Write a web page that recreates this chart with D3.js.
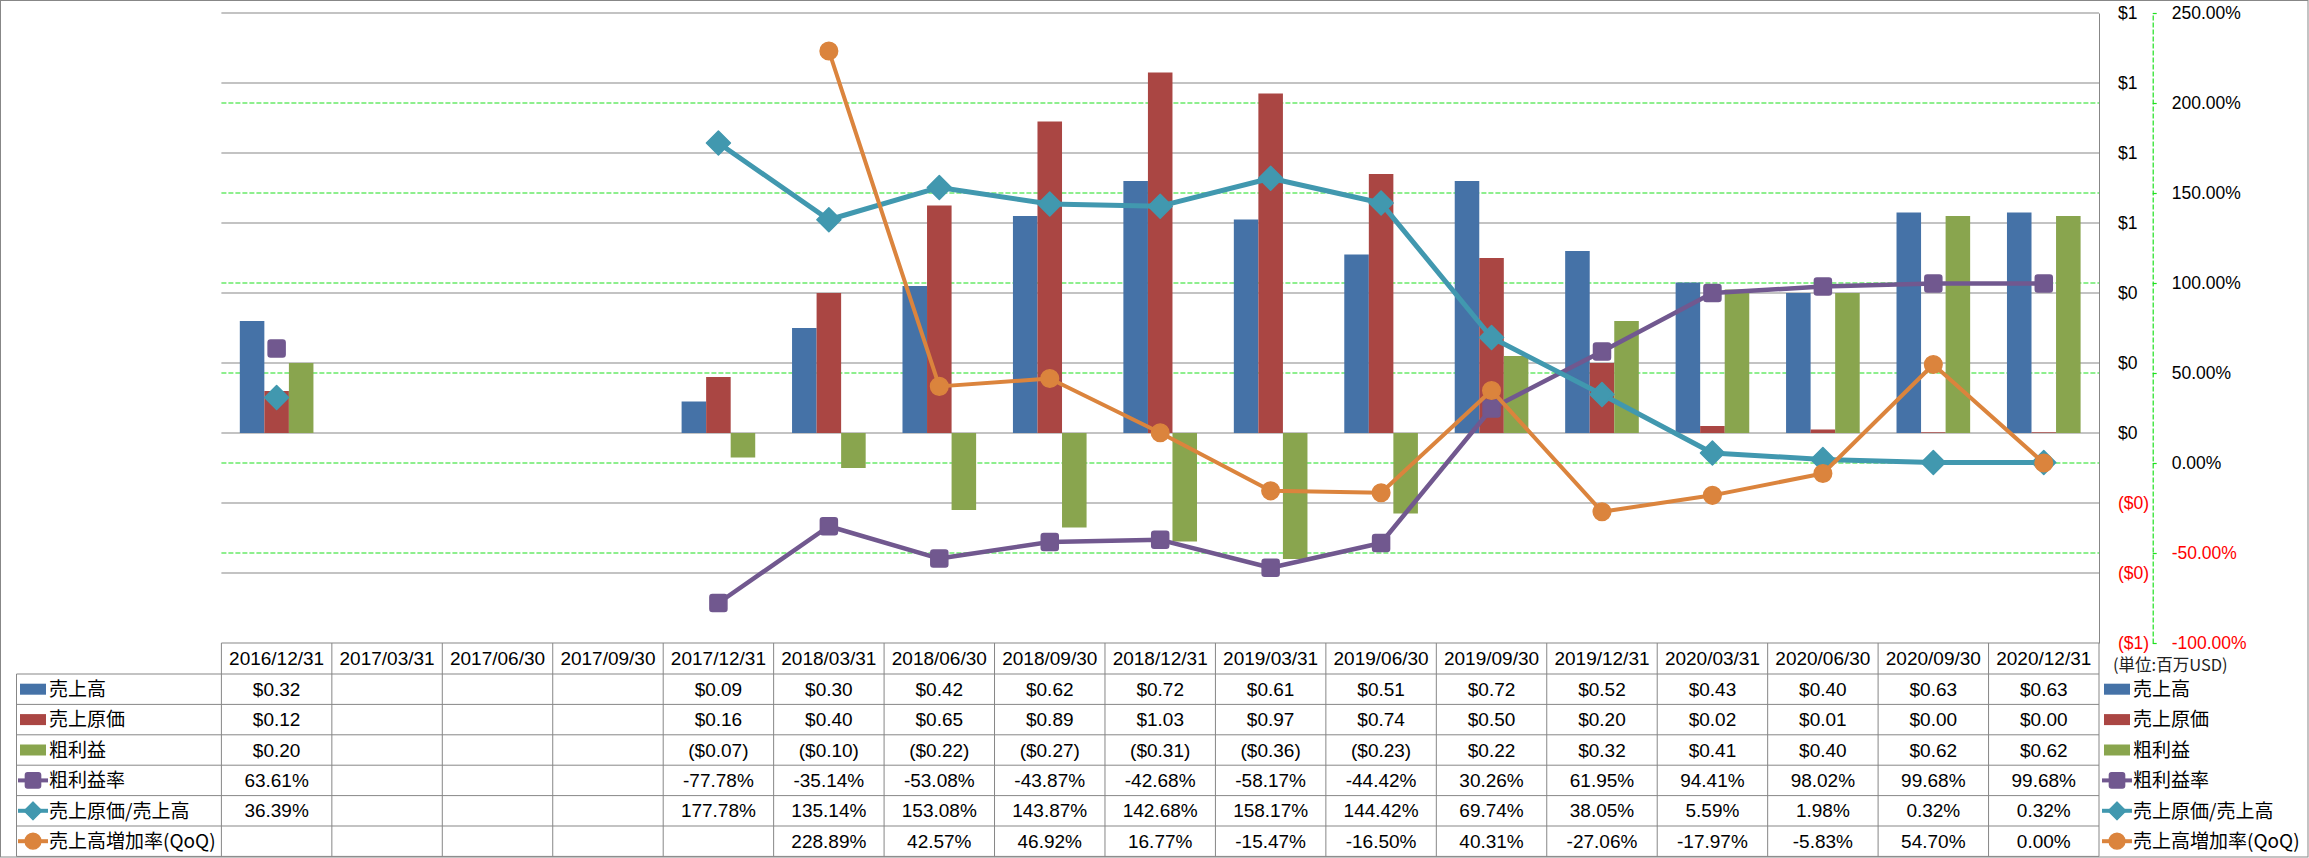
<!DOCTYPE html>
<html>
<head>
<meta charset="utf-8">
<script src="https://cdn.jsdelivr.net/npm/d3@7"></script>
<style>
body { margin: 0; background: #fff; }
text { font-family: "Liberation Sans", Arial, "Noto Sans CJK JP", sans-serif; }
.jp { font-family: "Noto Sans CJK JP", sans-serif; }
</style>
</head>
<body>
<svg id="chart" width="2309" height="858"></svg>
<script>
var quarters = ["2016/12/31", "2017/03/31", "2017/06/30", "2017/09/30", "2017/12/31", "2018/03/31",
    "2018/06/30", "2018/09/30", "2018/12/31", "2019/03/31", "2019/06/30", "2019/09/30",
    "2019/12/31", "2020/03/31", "2020/06/30", "2020/09/30", "2020/12/31"];

var revenue = [0.32, null, null, null, 0.09, 0.30, 0.42, 0.62, 0.72, 0.61, 0.51, 0.72, 0.52, 0.43, 0.40, 0.63, 0.63];
var cost = [0.12, null, null, null, 0.16, 0.40, 0.65, 0.89, 1.03, 0.97, 0.74, 0.50, 0.20, 0.02, 0.01, 0.002, 0.002];
var gross = [0.20, null, null, null, -0.07, -0.10, -0.22, -0.27, -0.31, -0.36, -0.23, 0.22, 0.32, 0.41, 0.40, 0.62, 0.62];
var grossMargin = [63.61, null, null, null, -77.78, -35.14, -53.08, -43.87, -42.68, -58.17, -44.42, 30.26, 61.95, 94.41, 98.02, 99.68, 99.68];
var costRatio = [36.39, null, null, null, 177.78, 135.14, 153.08, 143.87, 142.68, 158.17, 144.42, 69.74, 38.05, 5.59, 1.98, 0.32, 0.32];
var growth = [null, null, null, null, null, 228.89, 42.57, 46.92, 16.77, -15.47, -16.50, 40.31, -27.06, -17.97, -5.83, 54.70, 0.00];

var dollarTicks = [-0.6, -0.4, -0.2, 0, 0.2, 0.4, 0.6, 0.8, 1.0, 1.2];
var pctTicks = [-100, -50, 0, 50, 100, 150, 200, 250];

var barNames = ["売上高", "売上原価", "粗利益"];
var barColors = ["#4572A7", "#AA4643", "#89A54E"];
var lineNames = ["粗利益率", "売上原価/売上高", "売上高増加率(QoQ)"];
var lineColors = ["#71588F", "#4198AF", "#DB843D"];
var lineShapes = ["square", "diamond", "circle"];
var unitLabel = "(単位:百万USD)";

var svg = d3.select("#chart");
var plotLeft = 221.4, plotRight = 2099, plotTop = 13, plotBottom = 643;
var rowH = 30.4, headTop = 643, bodyTop = 674, tableLeft = 16.5;
var gridColor = "#878787", green = "#1ee01e";

var x = d3.scaleBand().domain(quarters).range([plotLeft, plotRight]);
var bw = x.bandwidth();
var x1 = d3.scaleBand().domain([0, 1, 2]).range([bw / 6, bw * 5 / 6]);
var y = d3.scaleLinear().domain([-0.6, 1.2]).range([plotBottom, plotTop]);
var y2 = d3.scaleLinear().domain([-100, 250]).range([plotBottom, plotTop]);

function fmtDollar(v) {
    if (v == null) return "";
    return v < 0 ? "($" + (-v).toFixed(2) + ")" : "$" + v.toFixed(2);
}
function fmtPct(v) {
    if (v == null) return "";
    return (v < 0 ? "-" : "") + Math.abs(v).toFixed(2) + "%";
}

// outer frame
svg.append("rect").attr("x", 0.5).attr("y", 0.5).attr("width", 2307.5).attr("height", 856.5)
    .attr("fill", "none").attr("stroke", gridColor);

// gray gridlines ($ axis)
svg.append("g").selectAll("line").data(dollarTicks.filter(function (t) { return t > -0.6; }))
    .enter().append("line")
    .attr("x1", plotLeft).attr("x2", plotRight)
    .attr("y1", function (d) { return y(d); }).attr("y2", function (d) { return y(d); })
    .attr("stroke", gridColor).attr("stroke-width", 1);

// green dashed gridlines (% axis)
svg.append("g").selectAll("line").data(pctTicks.filter(function (t) { return t > -100 && t < 250; }))
    .enter().append("line")
    .attr("x1", plotLeft).attr("x2", plotRight)
    .attr("y1", function (d) { return y2(d); }).attr("y2", function (d) { return y2(d); })
    .attr("stroke", green).attr("stroke-width", 1.2).attr("stroke-dasharray", "5,2");

// bars
var barSeries = [revenue, cost, gross];
barSeries.forEach(function (vals, s) {
    svg.append("g").selectAll("rect")
        .data(quarters.map(function (q, i) { return { q: q, v: vals[i] }; }).filter(function (d) { return d.v != null; }))
        .enter().append("rect")
        .attr("x", function (d) { return x(d.q) + x1(s); })
        .attr("width", x1.bandwidth())
        .attr("y", function (d) { return Math.min(y(d.v), y(0)); })
        .attr("height", function (d) { return Math.abs(y(d.v) - y(0)); })
        .attr("fill", barColors[s]);
});

function markerPath(shape) {
    if (shape === "square") {
        return "M-8.5,-6 Q-8.5,-8.5 -6,-8.5 L6,-8.5 Q8.5,-8.5 8.5,-6 L8.5,6 Q8.5,8.5 6,8.5 L-6,8.5 Q-8.5,8.5 -8.5,6 Z";
    }
    if (shape === "diamond") {
        return "M0,-12 L12,0 L0,12 L-12,0 Z";
    }
    return d3.symbol().type(d3.symbolCircle).size(Math.PI * 8.8 * 8.8)();
}

// lines
var lineSeries = [grossMargin, costRatio, growth];
var lineWidths = [4.5, 5, 4];
lineSeries.forEach(function (vals, s) {
    var pts = quarters.map(function (q, i) { return { q: q, v: vals[i] }; });
    var line = d3.line()
        .defined(function (d) { return d.v != null; })
        .x(function (d) { return x(d.q) + bw / 2; })
        .y(function (d) { return y2(d.v); });
    svg.append("path").datum(pts)
        .attr("d", line).attr("fill", "none")
        .attr("stroke", lineColors[s]).attr("stroke-width", lineWidths[s])
        .attr("stroke-linejoin", "round");
    svg.append("g").selectAll("path")
        .data(pts.filter(function (d) { return d.v != null; }))
        .enter().append("path")
        .attr("transform", function (d) { return "translate(" + (x(d.q) + bw / 2) + "," + y2(d.v) + ")"; })
        .attr("d", markerPath(lineShapes[s]))
        .attr("fill", lineColors[s])
        .attr("stroke", lineColors[s]).attr("stroke-width", 1.5).attr("stroke-linejoin", "round");
});

// $ axis
var ax1 = svg.append("g").attr("transform", "translate(" + plotRight + ",0)")
    .call(d3.axisRight(y).tickValues(dollarTicks).tickSize(0).tickPadding(19)
        .tickFormat(function (d) { var r = Math.round(Math.abs(d)); return d < 0 ? "($" + r + ")" : "$" + r; }));
ax1.select(".domain").attr("stroke", gridColor);
ax1.selectAll("text").attr("font-size", "17.5px")
    .attr("fill", function (d) { return d < 0 ? "#ff0000" : "#000"; });

// % axis
var ax2 = svg.append("g").attr("transform", "translate(2152.7,0)")
    .call(d3.axisRight(y2).tickValues(pctTicks).tickSize(4).tickSizeOuter(0).tickPadding(15)
        .tickFormat(fmtPct));
ax2.select(".domain").attr("stroke", green).attr("stroke-dasharray", "5,2").attr("stroke-width", 1.2);
ax2.selectAll(".tick line").attr("stroke", green).attr("stroke-width", 1.2);
ax2.selectAll("text").attr("font-size", "17.5px")
    .attr("fill", function (d) { return d < 0 ? "#ff0000" : "#000"; });

// data table
var rows = [
    { name: barNames[0], vals: revenue, fmt: fmtDollar, kind: "bar", c: barColors[0] },
    { name: barNames[1], vals: cost, fmt: fmtDollar, kind: "bar", c: barColors[1] },
    { name: barNames[2], vals: gross, fmt: fmtDollar, kind: "bar", c: barColors[2] },
    { name: lineNames[0], vals: grossMargin, fmt: fmtPct, kind: "square", c: lineColors[0] },
    { name: lineNames[1], vals: costRatio, fmt: fmtPct, kind: "diamond", c: lineColors[1] },
    { name: lineNames[2], vals: growth, fmt: fmtPct, kind: "circle", c: lineColors[2] }
];
var tableBottom = bodyTop + rowH * rows.length;
var tb = svg.append("g");

tb.append("line").attr("x1", plotLeft).attr("x2", plotRight).attr("y1", headTop).attr("y2", headTop)
    .attr("stroke", gridColor);
for (var r = 0; r <= rows.length; r++) {
    var yy = bodyTop + r * rowH;
    tb.append("line").attr("x1", tableLeft).attr("x2", plotRight).attr("y1", yy).attr("y2", yy)
        .attr("stroke", gridColor);
}
tb.append("line").attr("x1", tableLeft).attr("x2", tableLeft).attr("y1", bodyTop).attr("y2", tableBottom)
    .attr("stroke", gridColor);
tb.selectAll(".vline").data(quarters.concat(["end"])).enter().append("line")
    .attr("x1", function (d, i) { return plotLeft + i * bw; }).attr("x2", function (d, i) { return plotLeft + i * bw; })
    .attr("y1", headTop).attr("y2", tableBottom).attr("stroke", gridColor);

tb.selectAll(".head").data(quarters).enter().append("text")
    .attr("x", function (d) { return x(d) + bw / 2; }).attr("y", headTop + 15.5)
    .attr("dy", "0.35em").attr("text-anchor", "middle").attr("font-size", "19px").attr("fill", "#000")
    .text(function (d) { return d; });

function legendSymbol(g, row, cx, cy) {
    if (row.kind === "bar") {
        g.append("rect").attr("x", cx - 13).attr("y", cy - 5.5).attr("width", 26).attr("height", 11).attr("fill", row.c);
    } else {
        g.append("line").attr("x1", cx - 15).attr("x2", cx + 15).attr("y1", cy).attr("y2", cy)
            .attr("stroke", row.c).attr("stroke-width", 4);
        g.append("path").attr("transform", "translate(" + cx + "," + cy + ") scale(" + (row.kind === "diamond" ? 0.75 : 0.9) + ")")
            .attr("d", markerPath(row.kind)).attr("fill", row.c)
            .attr("stroke", row.c).attr("stroke-width", 1.5).attr("stroke-linejoin", "round");
    }
}

rows.forEach(function (row, r) {
    var cy = bodyTop + r * rowH + rowH / 2;
    legendSymbol(tb, row, 33, cy);
    tb.append("text").attr("class", "jp").attr("x", 49).attr("y", cy).attr("dy", "0.36em")
        .attr("font-size", "19px").attr("fill", "#000").text(row.name);
    tb.selectAll(".v" + r).data(row.vals).enter().append("text")
        .attr("x", function (d, i) { return x(quarters[i]) + bw / 2; }).attr("y", cy)
        .attr("dy", "0.35em").attr("text-anchor", "middle").attr("font-size", "19px").attr("fill", "#000")
        .text(function (d) { return row.fmt(d); });
});

// right legend
var lg = svg.append("g");
lg.append("text").attr("class", "jp").attr("x", 2113).attr("y", 665).attr("dy", "0.35em")
    .attr("font-size", "16.5px").attr("fill", "#222").text(unitLabel);
rows.forEach(function (row, r) {
    var cy = bodyTop + r * rowH + rowH / 2;
    legendSymbol(lg, row, 2117, cy);
    lg.append("text").attr("class", "jp").attr("x", 2133).attr("y", cy).attr("dy", "0.36em")
        .attr("font-size", "19px").attr("fill", "#000").text(row.name);
});
</script>
</body>
</html>
